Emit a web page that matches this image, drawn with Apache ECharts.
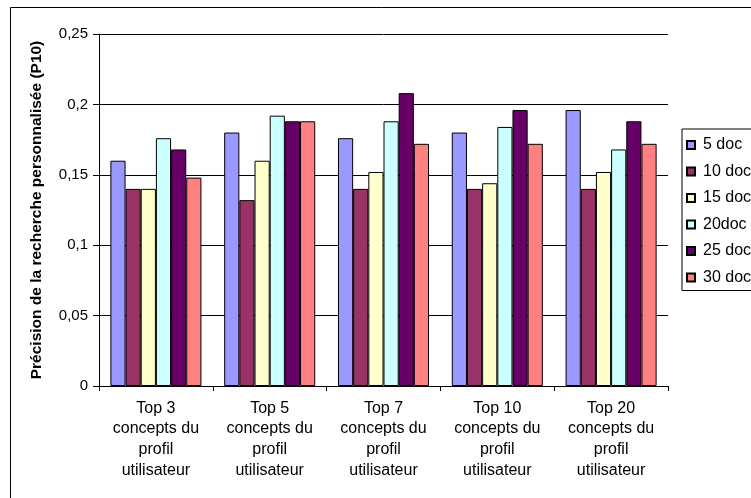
<!DOCTYPE html>
<html>
<head>
<meta charset="utf-8">
<script src="https://cdn.jsdelivr.net/npm/echarts@6/dist/echarts.min.js"></script>
<style>
html,body{margin:0;padding:0;background:#fff;}
#chart{width:751px;height:498px;}
</style>
</head>
<body>
<div id="chart"></div>
<script>
const categories = [
  "Top 3\nconcepts du\nprofil\nutilisateur",
  "Top 5\nconcepts du\nprofil\nutilisateur",
  "Top 7\nconcepts du\nprofil\nutilisateur",
  "Top 10\nconcepts du\nprofil\nutilisateur",
  "Top 20\nconcepts du\nprofil\nutilisateur"
];
const seriesNames = ["5 doc", "10 doc", "15 doc", "20doc", "25 doc", "30 doc"];
const doc5  = [0.160, 0.180, 0.176, 0.180, 0.196];
const doc10 = [0.140, 0.132, 0.140, 0.140, 0.140];
const doc15 = [0.140, 0.160, 0.152, 0.144, 0.152];
const doc20 = [0.176, 0.192, 0.188, 0.184, 0.168];
const doc25 = [0.168, 0.188, 0.208, 0.196, 0.188];
const doc30 = [0.148, 0.188, 0.172, 0.172, 0.172];
const seriesValues = [doc5, doc10, doc15, doc20, doc25, doc30];
const colors = ["#9999FF", "#993366", "#FFFFCC", "#CCFFFF", "#660066", "#FF8080"];

const chart = echarts.init(document.getElementById('chart'), null, {renderer: 'canvas'});
const font = 'Arial, "Liberation Sans", sans-serif';
chart.setOption({
  animation: false,
  textStyle: {fontFamily: font},
  graphic: [{
    type: 'rect',
    shape: {x: 10.5, y: 7.5, width: 800, height: 600},
    style: {fill: 'none', stroke: '#000', lineWidth: 1},
    silent: true
  }],
  grid: {left: 99, top: 34, width: 569, height: 352},
  legend: {
    orient: 'vertical',
    left: 682, top: 129,
    padding: [8, 10, 5, 4],
    borderColor: '#000', borderWidth: 1,
    itemWidth: 8, itemHeight: 8, itemGap: 10.5,
    icon: 'rect',
    textStyle: {fontFamily: font, fontSize: 16, lineHeight: 16, color: '#000', padding: [0, 0, 0, 3]},
    data: seriesNames
  },
  xAxis: {
    type: 'category',
    data: categories,
    axisLine: {lineStyle: {color: '#000', width: 1}},
    axisTick: {show: true, length: 5, lineStyle: {color: '#000'}},
    axisLabel: {color: '#000', fontSize: 16, fontFamily: font, lineHeight: 20.7, margin: 12, interval: 0}
  },
  yAxis: {
    type: 'value',
    min: 0, max: 0.25, interval: 0.05,
    name: 'Précision de la recherche personnalisée (P10)',
    nameLocation: 'middle',
    nameGap: 54,
    nameTextStyle: {fontFamily: font, fontSize: 15.5, fontWeight: 'bold', color: '#000'},
    axisLine: {show: true, lineStyle: {color: '#000', width: 1}},
    axisTick: {show: true, length: 6, lineStyle: {color: '#000'}},
    axisLabel: {color: '#000', fontSize: 15, fontFamily: font, margin: 11,
      formatter: v => String(Math.round(v * 100) / 100).replace('.', ',')},
    splitLine: {show: true, lineStyle: {color: '#000', width: 1}}
  },
  series: seriesNames.map((n, i) => ({
    name: n,
    type: 'bar',
    data: seriesValues[i],
    barGap: '0%',
    barCategoryGap: '20%',
    itemStyle: {color: colors[i], borderColor: '#000', borderWidth: 1}
  }))
});
</script>
</body>
</html>
